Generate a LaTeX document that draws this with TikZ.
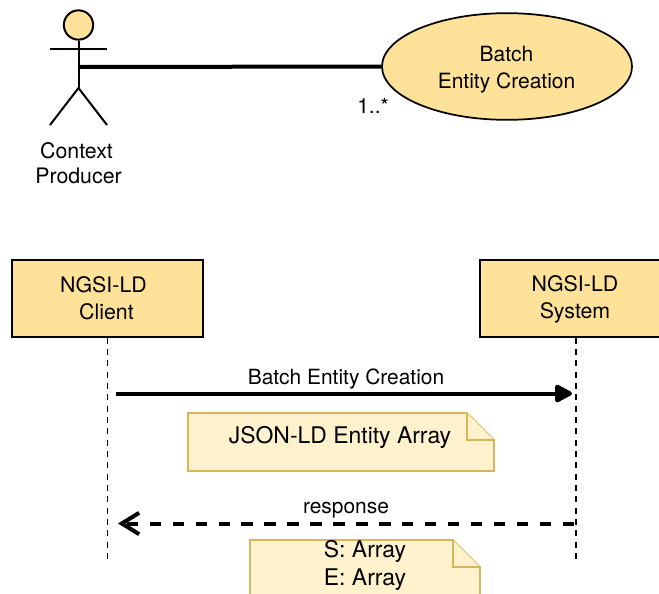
\documentclass[tikz,border=0pt]{standalone}
\usepackage{fontspec}
\setmainfont{TeX Gyre Heros}
\usetikzlibrary{arrows.meta,shapes.geometric}
\definecolor{ygold}{HTML}{FFE299}
\definecolor{nfill}{HTML}{FFF2CC}
\definecolor{nline}{HTML}{D6B656}
\tikzset{
  x=0.75pt,y=-0.75pt,
  txt/.style={font=\fontsize{15.75pt}{20.2pt}\selectfont,align=center,inner sep=0pt},
  small/.style={font=\fontsize{15.7pt}{18pt}\selectfont,inner sep=0pt},
  big/.style={font=\fontsize{17.2pt}{21pt}\selectfont,align=center,inner sep=0pt},
  actorline/.style={line width=1.5pt,black},
  boxn/.style={draw=black,line width=1.1pt,fill=ygold,minimum height=57.75pt,inner sep=0pt,txt},
  notes/.style={draw=nline,line width=1.3pt,fill=nfill,line join=miter},
  life/.style={line width=1.4pt,dash pattern=on 4.5pt off 4pt},
  msg/.style={line width=3pt},
}
\begin{document}
\begin{tikzpicture}
\useasboundingbox (0,0) rectangle (659,593);
\clip (0,0) rectangle (659,593);
% actor
\node[circle,draw=black,line width=1.5pt,fill=ygold,minimum size=22pt,inner sep=0pt] (head) at (78.5,25) {};
\coordinate (hip) at (78.5,88);
\coordinate (armL) at (50,49);
\coordinate (armR) at (107,49);
\coordinate (legL) at (50,125);
\coordinate (legR) at (107,125);
\coordinate (hand) at (78,67);
\draw[actorline] (head.south) -- (hip);
\draw[actorline] (armL) -- (armR);
\draw[actorline] (legL) -- (hip) -- (legR);
\node[txt,font=\fontsize{16pt}{19pt}\selectfont] (producer) at (78.5,163) {Context\rule{3pt}{0pt}\\Producer};
% use case
\node[ellipse,draw=black,line width=1.3pt,fill=ygold,minimum width=187.5pt,minimum height=80pt,inner sep=0pt,txt,text depth=0pt] (uc) at (507,66.5) {};
\node[txt] (uctext) at (506.5,70) {Batch\\Entity Creation};
\draw[line width=3pt] (hand) -- (uc.west);
\node[small] (mult) at (373,106) {1..*};
% lifeline boxes
\node[boxn,minimum width=143.25pt,font=\fontsize{16pt}{20pt}\selectfont] (client) at (107.5,298.5) {NGSI-LD\rule{6pt}{0pt}\\Client\rule{1.5pt}{0pt}};
\node[boxn,minimum width=143.25pt,font=\fontsize{16pt}{20pt}\selectfont] (system) at (575.5,298.5) {};
\node[txt,font=\fontsize{16pt}{20pt}\selectfont] (systext) at (575,299.5) {NGSI-LD\\System};
\coordinate (clientEnd) at (107.5,560);
\coordinate (systemEnd) at (576,560);
\draw[life] (client.south) -- (clientEnd);
\draw[life] (client.south -| systemEnd) -- (systemEnd);
% request
\coordinate (reqA) at (116,393.5);
\coordinate (reqB) at (572,393.5);
\draw[msg,-{Triangle[length=14.5pt,width=14.5pt,round]}] (reqA) -- (reqB);
\node[small] (reqL) at (346,379) {Batch Entity Creation};
% note 1
\draw[notes] (188,413) -- (467,413) -- (494,440) -- (494,471) -- (188,471) -- cycle;
\draw[notes] (467,413) -- (467,440) -- (494,440);
\node[big] (note1) at (340,437) {JSON-LD Entity Array};
% response
\coordinate (resA) at (574,523.5);
\coordinate (resB) at (118,523.5);
\draw[msg,dash pattern=on 8.6pt off 8.6pt,-{Straight Barb[length=13pt,width=16pt,line width=3pt]}] (resA) -- (resB);
\node[small] (resL) at (346,510) {response};
% note 2
\draw[notes] (250,540) -- (453,540) -- (480,567) -- (480,620) -- (250,620) -- cycle;
\draw[notes] (453,540) -- (453,567) -- (480,567);
\node[big] (note2) at (365,565) {S: Array\\E: Array};
\end{tikzpicture}
\end{document}
